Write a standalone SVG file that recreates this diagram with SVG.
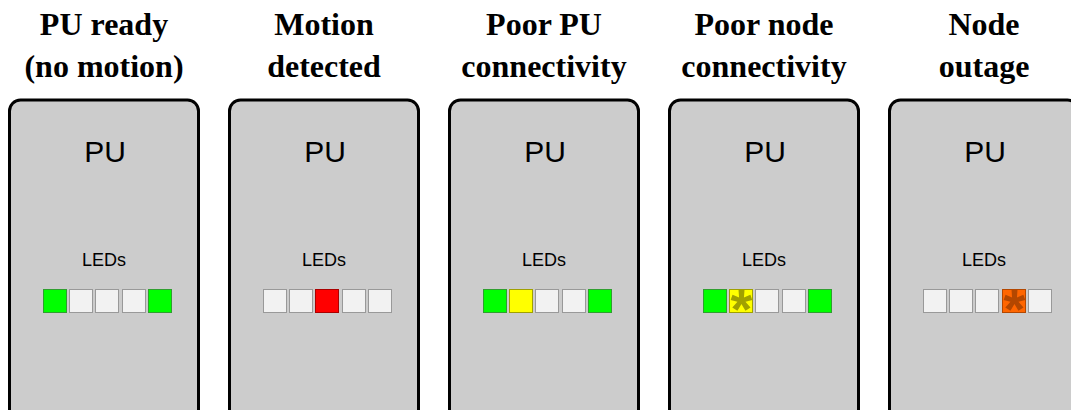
<svg xmlns="http://www.w3.org/2000/svg" width="1071" height="410" viewBox="0 0 1071 410">
<style>
.box{fill:#cccccc;stroke:#000;stroke-width:3}
.title{font-family:"Liberation Serif",serif;font-weight:bold;font-size:32px;text-anchor:middle;fill:#000}
.pu{font-family:"Liberation Sans",Arial,sans-serif;font-size:30px;text-anchor:middle;fill:#000}
.leds{font-family:"Liberation Sans",Arial,sans-serif;font-size:18px;text-anchor:middle;fill:#000}
.off{fill:#f2f2f2;stroke:#999;stroke-width:1}
.g{fill:#00ff00;stroke:#2f9f2f;stroke-width:1}
.r{fill:#ff0000;stroke:#a00;stroke-width:1}
.y{fill:#ffff00;stroke:#a0a000;stroke-width:1}
.o{fill:#ff6600;stroke:#b34700;stroke-width:1}
.ast{font-family:"Liberation Sans",Arial,sans-serif;font-size:56px;font-weight:bold;text-anchor:middle}
</style>
<rect width="1071" height="410" fill="#fff"/>
<g id="panel1">
<text class="title" x="104" y="35">PU ready</text>
<text class="title" x="104" y="77">(no motion)</text>
<rect class="box" x="9.5" y="100" width="189" height="330" rx="11"/>
<text class="pu" x="105" y="162">PU</text>
<text class="leds" x="104" y="266">LEDs</text>
<rect class="g" x="43.5" y="289.5" width="23" height="23"/>
<rect class="off" x="69.5" y="289.5" width="23" height="23"/>
<rect class="off" x="95.5" y="289.5" width="23" height="23"/>
<rect class="off" x="122.5" y="289.5" width="23" height="23"/>
<rect class="g" x="148.5" y="289.5" width="23" height="23"/>
</g>
<g id="panel2">
<text class="title" x="324" y="35">Motion</text>
<text class="title" x="324" y="77">detected</text>
<rect class="box" x="229.5" y="100" width="189" height="330" rx="11"/>
<text class="pu" x="325" y="162">PU</text>
<text class="leds" x="324" y="266">LEDs</text>
<rect class="off" x="263.5" y="289.5" width="23" height="23"/>
<rect class="off" x="289.5" y="289.5" width="23" height="23"/>
<rect class="r" x="315.5" y="289.5" width="23" height="23"/>
<rect class="off" x="342.5" y="289.5" width="23" height="23"/>
<rect class="off" x="368.5" y="289.5" width="23" height="23"/>
</g>
<g id="panel3">
<text class="title" x="544" y="35">Poor PU</text>
<text class="title" x="544" y="77">connectivity</text>
<rect class="box" x="449.5" y="100" width="189" height="330" rx="11"/>
<text class="pu" x="545" y="162">PU</text>
<text class="leds" x="544" y="266">LEDs</text>
<rect class="g" x="483.5" y="289.5" width="23" height="23"/>
<rect class="y" x="509.5" y="289.5" width="23" height="23"/>
<rect class="off" x="535.5" y="289.5" width="23" height="23"/>
<rect class="off" x="562.5" y="289.5" width="23" height="23"/>
<rect class="g" x="588.5" y="289.5" width="23" height="23"/>
</g>
<g id="panel4">
<text class="title" x="764" y="35">Poor node</text>
<text class="title" x="764" y="77">connectivity</text>
<rect class="box" x="669.5" y="100" width="189" height="330" rx="11"/>
<text class="pu" x="765" y="162">PU</text>
<text class="leds" x="764" y="266">LEDs</text>
<rect class="g" x="703.5" y="289.5" width="23" height="23"/>
<rect class="y" x="729.5" y="289.5" width="23" height="23"/>
<text class="ast" x="741.5" y="328" fill="#a0a000">*</text>
<rect class="off" x="755.5" y="289.5" width="23" height="23"/>
<rect class="off" x="782.5" y="289.5" width="23" height="23"/>
<rect class="g" x="808.5" y="289.5" width="23" height="23"/>
</g>
<g id="panel5">
<text class="title" x="984" y="35">Node</text>
<text class="title" x="984" y="77">outage</text>
<rect class="box" x="889.5" y="100" width="189" height="330" rx="11"/>
<text class="pu" x="985" y="162">PU</text>
<text class="leds" x="984" y="266">LEDs</text>
<rect class="off" x="923.5" y="289.5" width="23" height="23"/>
<rect class="off" x="949.5" y="289.5" width="23" height="23"/>
<rect class="off" x="975.5" y="289.5" width="23" height="23"/>
<rect class="o" x="1002.5" y="289.5" width="23" height="23"/>
<text class="ast" x="1014.5" y="328" fill="#b34700">*</text>
<rect class="off" x="1028.5" y="289.5" width="23" height="23"/>
</g>
<g id="connectors"/>
</svg>
